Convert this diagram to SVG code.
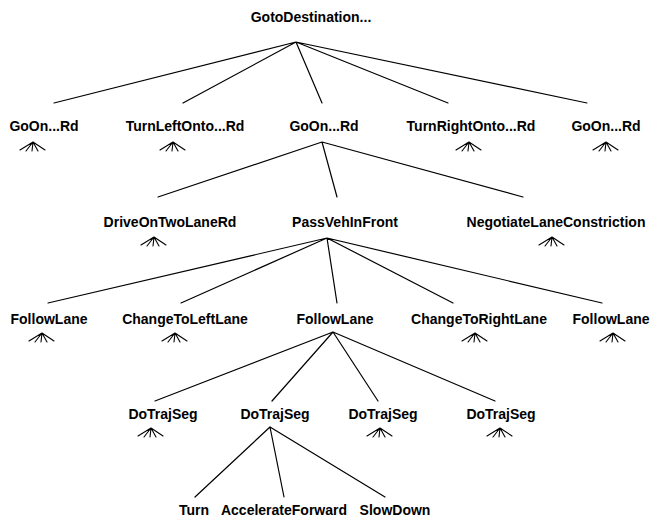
<svg xmlns="http://www.w3.org/2000/svg" width="650" height="518" viewBox="0 0 650 518">
  <style>
    .lbl { font-family: "Liberation Sans", Arial, Helvetica, sans-serif; font-weight: bold; font-size: 14px; fill: #000; text-anchor: middle; }
    .edge { stroke: #000; stroke-width: 1.2; fill: none; stroke-linecap: round; }
    .fan { stroke: #000; stroke-width: 1.1; fill: none; stroke-linecap: round; }
  </style>
  <defs>
    <!-- collapsed subtree marker: short fan of branches -->
    <g id="fanGlyph" class="fan">
      <path d="M0,0 L-13,8 M0,0 L-7,9 M0,0 L-1,9 M0,0 L5,9 M0,0 L12,8"/>
    </g>
  </defs>
  <rect width="650" height="518" fill="#fff"/>

  <g id="connectors">
    <path class="edge" d="M296,42 L54,103 M296,42 L183,103 M296,42 L322,103 M296,42 L448,103 M296,42 L587,103"/>
    <path class="edge" d="M322,142 L158,197 M322,142 L337,197 M322,142 L523,197"/>
    <path class="edge" d="M327,238 L48,303 M327,238 L181,303 M327,238 L337,303 M327,238 L453,303 M327,238 L602,303"/>
    <path class="edge" d="M333,332 L155,401 M333,332 L272,401 M333,332 L378,401 M333,332 L495,401"/>
    <path class="edge" d="M270,427 L195,497 M270,427 L284,497 M270,427 L385,497"/>
  </g>

  <g id="n-root"><text class="lbl" x="311" y="22">GotoDestination...</text></g>

  <g id="n-goon-1"><text class="lbl" x="44" y="131">GoOn...Rd</text><use href="#fanGlyph" x="33" y="142"/></g>
  <g id="n-turnleft"><text class="lbl" x="185" y="131">TurnLeftOnto...Rd</text><use href="#fanGlyph" x="173" y="142"/></g>
  <g id="n-goon-2"><text class="lbl" x="324" y="131">GoOn...Rd</text></g>
  <g id="n-turnright"><text class="lbl" x="471" y="131">TurnRightOnto...Rd</text><use href="#fanGlyph" x="469" y="142"/></g>
  <g id="n-goon-3"><text class="lbl" x="606" y="131">GoOn...Rd</text><use href="#fanGlyph" x="606" y="142"/></g>

  <g id="n-drive"><text class="lbl" x="170" y="227">DriveOnTwoLaneRd</text><use href="#fanGlyph" x="154" y="237"/></g>
  <g id="n-pass"><text class="lbl" x="345" y="227">PassVehInFront</text></g>
  <g id="n-negotiate"><text class="lbl" x="556" y="227">NegotiateLaneConstriction</text><use href="#fanGlyph" x="552" y="237"/></g>

  <g id="n-follow-1"><text class="lbl" x="49" y="324">FollowLane</text><use href="#fanGlyph" x="42" y="333"/></g>
  <g id="n-changeleft"><text class="lbl" x="185" y="324">ChangeToLeftLane</text><use href="#fanGlyph" x="175" y="333"/></g>
  <g id="n-follow-2"><text class="lbl" x="335" y="324">FollowLane</text></g>
  <g id="n-changeright"><text class="lbl" x="479" y="324">ChangeToRightLane</text><use href="#fanGlyph" x="475" y="333"/></g>
  <g id="n-follow-3"><text class="lbl" x="611" y="324">FollowLane</text><use href="#fanGlyph" x="613" y="333"/></g>

  <g id="n-seg-1"><text class="lbl" x="163" y="419">DoTrajSeg</text><use href="#fanGlyph" x="151" y="428"/></g>
  <g id="n-seg-2"><text class="lbl" x="275" y="419">DoTrajSeg</text></g>
  <g id="n-seg-3"><text class="lbl" x="383" y="419">DoTrajSeg</text><use href="#fanGlyph" x="380" y="428"/></g>
  <g id="n-seg-4"><text class="lbl" x="501" y="419">DoTrajSeg</text><use href="#fanGlyph" x="500" y="428"/></g>

  <g id="n-turn"><text class="lbl" x="194" y="515">Turn</text></g>
  <g id="n-accel"><text class="lbl" x="284" y="515">AccelerateForward</text></g>
  <g id="n-slow"><text class="lbl" x="395" y="515">SlowDown</text></g>
</svg>
